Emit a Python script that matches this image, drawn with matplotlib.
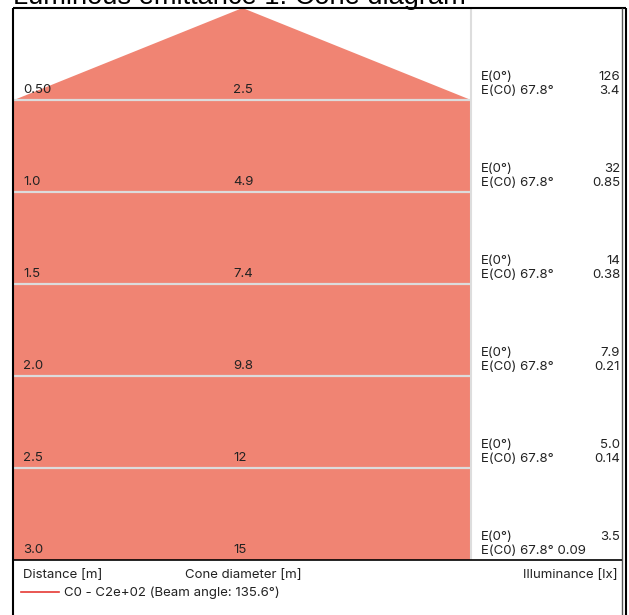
import matplotlib
matplotlib.use("Agg")
import matplotlib.pyplot as plt
from matplotlib.lines import Line2D
from matplotlib.patches import Polygon
import matplotlib.transforms as mtransforms

# ---- data ----
title = "Luminous emittance 1: Cone diagram"
distances = [0.5, 1.0, 1.5, 2.0, 2.5, 3.0]
distance_labels = ["0.50", "1.0", "1.5", "2.0", "2.5", "3.0"]
diameters = [2.5, 4.9, 7.4, 9.8, 12, 15]
diameter_labels = ["2.5", "4.9", "7.4", "9.8", "12", "15"]
e0_labels = ["126", "32", "14", "7.9", "5.0", "3.5"]
ec0_labels = ["3.4", "0.85", "0.38", "0.21", "0.14", "0.09"]
half_angle = 67.8
legend_label = "C0 - C2e+02 (Beam angle: 135.6°)"
col_labels = ["Distance [m]", "Cone diameter [m]", "Illuminance [lx]"]

FILL = "#F08473"
TXT = "#222222"
plt.rcParams['font.family'] = ['Inter', 'DejaVu Sans']

W, H = 629, 615
fig = plt.figure(figsize=(W / 100, H / 100), dpi=100)

def fx(px):
    return px / W

def fy(py):
    return 1 - py / H

# cone axes
ax = fig.add_axes([fx(14), fy(560), fx(471) - fx(14), fy(8) - fy(560)])
half = diameters[0] / 2
ax.set_xlim(-half, half)
ax.set_ylim(distances[-1], 0)
ax.axis('off')

right = [(d / 2, dist) for d, dist in zip(diameters, distances)]
left = [(-d / 2, dist) for d, dist in zip(diameters, distances)][::-1]
cone = Polygon([(0, 0)] + right + left, closed=True, facecolor=FILL,
               edgecolor='none', clip_on=True)
ax.add_patch(cone)
for d in distances[:-1]:
    ax.axhline(d, color='#dcdcdc', lw=1.6, zorder=3)

trans = mtransforms.blended_transform_factory(ax.transAxes, ax.transData)
off = mtransforms.offset_copy(trans, fig=fig, x=0, y=4, units='dots')
for dist, dl, cl in zip(distances, distance_labels, diameter_labels):
    ax.text(0.0197, dist, dl, transform=off, ha='left', va='bottom',
            fontsize=9.5, color=TXT)
    ax.text(0.479, dist, cl, transform=off, ha='left', va='bottom',
            fontsize=9.5, color=TXT)

# right panel
ax2 = fig.add_axes([fx(471), fy(560), fx(622) - fx(471), fy(8) - fy(560)])
ax2.set_xlim(0, 1)
ax2.set_ylim(distances[-1], 0)
ax2.axis('off')
trans2 = mtransforms.blended_transform_factory(ax2.transAxes, ax2.transData)
off1 = mtransforms.offset_copy(trans2, fig=fig, x=0, y=3, units='dots')
off2 = mtransforms.offset_copy(trans2, fig=fig, x=0, y=17, units='dots')
n = len(distances)
for i, (dist, e0, ec) in enumerate(zip(distances, e0_labels, ec0_labels)):
    ax2.text(0.066, dist, "E(0°)", transform=off2, ha='left', va='bottom',
             fontsize=9.5, color=TXT)
    ax2.text(0.987, dist, e0, transform=off2, ha='right', va='bottom',
             fontsize=9.5, color=TXT)
    if i == n - 1:
        ax2.text(0.066, dist, f"E(C0) {half_angle}° {ec}", transform=off1,
                 ha='left', va='bottom', fontsize=9.5, color=TXT)
    else:
        ax2.text(0.066, dist, f"E(C0) {half_angle}°", transform=off1,
                 ha='left', va='bottom', fontsize=9.5, color=TXT)
        ax2.text(0.987, dist, ec, transform=off1, ha='right', va='bottom',
                 fontsize=9.5, color=TXT)

# frame lines
def fline(x0, y0, x1, y1, color, lw):
    fig.add_artist(Line2D([fx(x0), fx(x1)], [fy(y0), fy(y1)], color=color,
                          lw=lw, transform=fig.transFigure, solid_capstyle='butt'))

fline(471, 8, 471, 560, '#dddddd', 1.5)
fline(13, 8, 626, 8, 'black', 1.5)
fline(13, 8, 13, 615, 'black', 1.5)
fline(625.5, 8, 625.5, 615, 'black', 1.5)
fline(622, 8, 622, 615, '#555555', 1.0)
fline(13, 560, 622, 560, 'black', 1.2)

# title (cut off at top, as in the reference)
fig.text(fx(13), fy(4), title, ha='left', va='baseline', fontsize=19.6,
         color='black', family=['Liberation Sans', 'DejaVu Sans'])

# bottom captions
fig.text(fx(23), fy(575), col_labels[0], ha='left', va='center', fontsize=9.5, color=TXT)
fig.text(fx(185), fy(575), col_labels[1], ha='left', va='center', fontsize=9.5, color=TXT)
fig.text(fx(618), fy(575), col_labels[2], ha='right', va='center', fontsize=9.5, color=TXT)
fig.add_artist(Line2D([fx(21), fx(59)], [fy(592), fy(592)], color='#e53935', lw=1.2,
                      transform=fig.transFigure))
fig.text(fx(64), fy(593), legend_label, ha='left', va='center', fontsize=9.5, color=TXT)

fig.savefig("out.png", dpi=100)
